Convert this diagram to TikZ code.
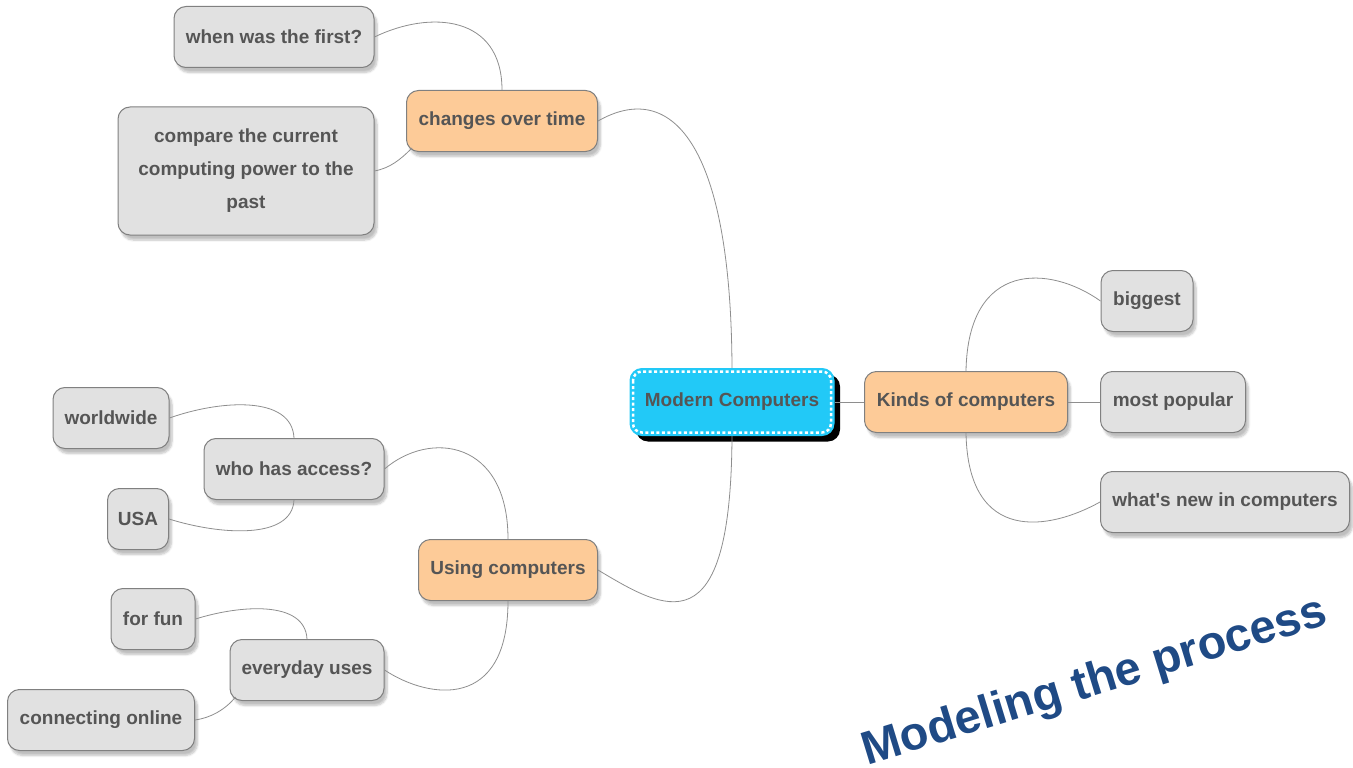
\documentclass[tikz,border=0pt]{standalone}
\usepackage{fontspec}
\setmainfont{Liberation Sans}
\usetikzlibrary{shadows,shadows.blur,calc}
\definecolor{txt}{HTML}{555555}
\definecolor{boxgray}{HTML}{E1E1E1}
\definecolor{bord}{HTML}{808080}
\definecolor{orng}{HTML}{FDCB98}
\definecolor{mccyan}{HTML}{22C9F7}
\definecolor{connc}{HTML}{8E8E8E}
\definecolor{titleblue}{HTML}{1F4A85}
\begin{document}
\begin{tikzpicture}[x=1pt,y=-1pt,
  box/.style={rounded corners=12pt, draw=bord, line width=1pt, fill=boxgray, text=txt,
    font=\fontsize{19}{23}\selectfont\bfseries, minimum height=61pt, inner sep=0pt,
    blur shadow={shadow blur steps=6, shadow xshift=3pt, shadow yshift=-5pt, shadow opacity=25}},
  obox/.style={box, fill=orng},
  conn/.style={draw=connc, line width=0.8pt}]
\useasboundingbox (0,0) rectangle (1353,768);
% central node
\node[rounded corners=12pt, fill=mccyan, draw=mccyan, line width=1pt, text=txt,
  font=\fontsize{19}{23}\selectfont\bfseries, minimum width=204pt, minimum height=67pt, inner sep=0pt,
  drop shadow={fill=black, opacity=1, shadow xshift=6pt, shadow yshift=-6pt}] (mc) at (732,402) {Modern Computers};
\draw[white, line width=2.5pt, dash pattern=on 3pt off 2.5pt, rounded corners=9pt]
  ($(mc.north west)+(3.5,3.5)$) rectangle ($(mc.south east)+(-3.5,-3.5)$);
% right branch
\node[obox, minimum width=203pt] (kc) at (966,402) {Kinds of computers};
\node[box, minimum width=92pt] (big) at (1147,301) {biggest};
\node[box, minimum width=145pt] (pop) at (1173,402) {most popular};
\node[box, minimum width=249pt] (new) at (1225,502) {what\textquotesingle s new in computers};
% top-left branch
\node[obox, minimum width=191pt] (ch) at (502,121) {changes over time};
\node[box, minimum width=200pt] (wf) at (274,37) {when was the first?};
\node[box, minimum width=256pt, minimum height=128pt, align=center] (cmp) at (246,171)
  {compare the current\\[10pt]computing power to the\\[10pt]past};
% bottom-left branch
\node[obox, minimum width=179pt] (us) at (508,570) {Using computers};
\node[box, minimum width=180pt] (acc) at (294,469) {who has access?};
\node[box, minimum width=116pt] (ww) at (111,418) {worldwide};
\node[box, minimum width=61pt] (usa) at (138,519) {USA};
\node[box, minimum width=154pt] (ev) at (307,670) {everyday uses};
\node[box, minimum width=84pt] (fun) at (153,619) {for fun};
\node[box, minimum width=187pt] (onl) at (101,720) {connecting online};
% connectors
\draw[conn] (mc.north) .. controls (731,140) and (670,80) .. (ch.east);
\draw[conn] (mc.south) .. controls (731,650) and (665,610) .. (us.east);
\draw[conn] (mc.east) -- (kc.west);
\draw[conn] (kc.north) .. controls (968,260) and (1050,265) .. (big.west);
\draw[conn] (kc.east) -- (pop.west);
\draw[conn] (kc.south) .. controls (968,545) and (1050,530) .. (new.west);
\draw[conn] (ch.north) .. controls (502,15) and (430,10) .. (wf.east);
\draw[conn] ([xshift=6pt,yshift=4pt]ch.south west) .. controls (400,160) and (390,168) .. (cmp.east);
\draw[conn] (us.north) .. controls (508,440) and (430,430) .. (acc.east);
\draw[conn] (us.south) .. controls (508,710) and (430,700) .. (ev.east);
\draw[conn] (acc.north) .. controls (292,395) and (220,400) .. (ww.east);
\draw[conn] (acc.south) .. controls (292,540) and (220,535) .. (usa.east);
\draw[conn] (ev.north) .. controls (305,600) and (240,605) .. (fun.east);
\draw[conn] ([xshift=6pt,yshift=4pt]ev.south west) .. controls (225,710) and (210,718) .. (onl.east);
% title
\node[rotate=17, inner sep=0pt, font=\fontsize{47}{49}\selectfont\bfseries, text=titleblue] (title) at (1095,683) {Modeling the process};
\end{tikzpicture}
\end{document}
